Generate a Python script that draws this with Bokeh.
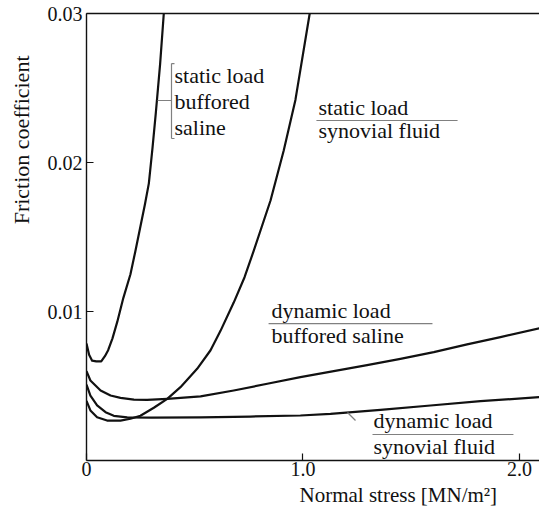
from bokeh.plotting import figure
from bokeh.models import Range1d, FixedTicker, LinearAxis, Label, Title
from bokeh.embed import file_html
from bokeh.resources import INLINE

# ---- data (friction coefficient in units of 1e-3, normal stress in MN/m^2) ----
sb_stress = [0.0, 0.012, 0.026, 0.045, 0.068, 0.085, 0.10, 0.12, 0.142, 0.17, 0.203,
             0.225, 0.249, 0.27, 0.288, 0.305, 0.32, 0.34, 0.357]
sb_mu = [7.85, 7.1, 6.7, 6.65, 6.65, 7.0, 7.4, 8.2, 9.3, 10.9, 12.5,
         14.0, 15.7, 17.2, 18.6, 21.0, 23.3, 26.6, 30.0]

ss_stress = [0.0, 0.018, 0.049, 0.095, 0.157, 0.203, 0.249, 0.311, 0.373, 0.434, 0.511,
             0.573, 0.619, 0.68, 0.73, 0.773, 0.85, 0.911, 0.965, 1.031]
ss_mu = [4.0, 3.36, 2.9, 2.68, 2.68, 2.8, 3.0, 3.54, 4.14, 4.92, 6.15,
         7.4, 8.7, 10.6, 12.3, 14.1, 17.45, 20.8, 24.2, 30.0]

db_stress = [0.0, 0.018, 0.065, 0.111, 0.157, 0.219, 0.28, 0.373, 0.527, 0.68, 0.835,
             0.988, 1.142, 1.296, 1.45, 1.604, 1.758, 1.912, 2.092]
db_mu = [6.0, 5.37, 4.7, 4.36, 4.2, 4.09, 4.07, 4.14, 4.3, 4.7, 5.15,
         5.6, 6.0, 6.4, 6.82, 7.27, 7.79, 8.28, 8.88]

ds_stress = [0.0, 0.018, 0.049, 0.088, 0.126, 0.188, 0.3, 0.527, 0.757, 0.988, 1.127,
             1.358, 1.589, 1.82, 2.092]
ds_mu = [5.1, 4.36, 3.7, 3.24, 3.0, 2.9, 2.88, 2.9, 2.95, 3.02, 3.13,
         3.4, 3.69, 3.98, 4.25]

x_ticks = [0, 1, 2]
x_tick_labels = ["0", "1.0", "2.0"]
y_ticks = [0.01, 0.02, 0.03]
y_tick_labels = ["0.01", "0.02", "0.03"]

x_title = "Normal stress [MN/m²]"
y_title = "Friction coefficient"

FONT = "Liberation Serif"
INK = "#111111"
GRAY = "#808080"

p = figure(width=539, height=512, output_backend="svg", toolbar_location=None,
           x_range=Range1d(0, 2.0924), y_range=Range1d(0, 0.03),
           min_border_left=86, min_border_right=0, min_border_top=13, min_border_bottom=52,
           background_fill_color="white", border_fill_color="white")
p.outline_line_color = None
p.grid.grid_line_color = None

def scale(vals):
    return [v / 1000.0 for v in vals]

for xs, ys in [(sb_stress, sb_mu), (ss_stress, ss_mu), (db_stress, db_mu), (ds_stress, ds_mu)]:
    p.line(xs, scale(ys), line_color=INK, line_width=2.2, line_join="round")

xaxis = p.xaxis[0]
yaxis = p.yaxis[0]
for ax in (xaxis, yaxis):
    ax.axis_line_color = INK
    ax.axis_line_width = 1.4
    ax.major_tick_in = 7
    ax.major_tick_out = 0
    ax.minor_tick_line_color = None
    ax.major_tick_line_color = INK
    ax.major_tick_line_width = 1.2
    ax.major_label_text_font = FONT
    ax.major_label_text_font_size = "20px"
    ax.major_label_text_color = INK

xaxis.ticker = FixedTicker(ticks=x_ticks)
xaxis.major_label_overrides = {t: l for t, l in zip(x_ticks, x_tick_labels)}
xaxis.major_label_standoff = 1
yaxis.ticker = FixedTicker(ticks=y_ticks)
yaxis.major_label_overrides = {t: l for t, l in zip(y_ticks, y_tick_labels)}
yaxis.major_label_standoff = 4

top = LinearAxis(ticker=FixedTicker(ticks=[]), axis_line_color=INK, axis_line_width=1.4,
                 major_tick_in=0, major_tick_out=0, minor_tick_in=0, minor_tick_out=0,
                 major_label_standoff=0, major_label_text_font_size="0px")
p.add_layout(top, "above")

ytitle = Title(text=y_title, text_font=FONT, text_font_size="22px", text_font_style="normal",
               text_color=INK, align="right", offset=42, vertical_align="top", standoff=17)
xtitle = Title(text=x_title, text_font=FONT, text_font_size="21px", text_font_style="normal",
               text_color=INK, align="left", offset=213, vertical_align="bottom", standoff=4)

p.left = [yaxis, ytitle]
p.below = [xaxis, xtitle]

def label(x, y, t):
    p.add_layout(Label(x=x, y=y, text=t, text_font=FONT, text_font_size="22px",
                       text_color=INK, text_align="left", text_baseline="middle"))

# curve annotations
label(0.4065, 0.02584, "static load")
label(0.4065, 0.02409, "buffored")
label(0.4065, 0.02235, "saline")

label(1.0716, 0.02369, "static load")
label(1.0716, 0.02215, "synovial fluid")

label(0.8545, 0.010087, "dynamic load")
label(0.8545, 0.008369, "buffored saline")

label(1.3256, 0.002664, "dynamic load")
label(1.3256, 0.00096, "synovial fluid")

# bracket, fraction rules and pointer
seg_x0 = [0.3926, 0.3926, 0.3926, 0.328, 1.062, 0.841, 1.321, 1.2055]
seg_y0 = [0.02664, 0.02664, 0.02161, 0.02416, 0.02282, 0.00919, 0.001745, 0.003221]
seg_x1 = [0.3926, 0.4065, 0.4065, 0.3926, 1.714, 1.598, 1.972, 1.2425]
seg_y1 = [0.02161, 0.02664, 0.02161, 0.02416, 0.02282, 0.00919, 0.001745, 0.002685]
p.segment(seg_x0, seg_y0, seg_x1, seg_y1, line_color=GRAY, line_width=1.2)

open("out.html", "w").write(file_html(p, INLINE))
